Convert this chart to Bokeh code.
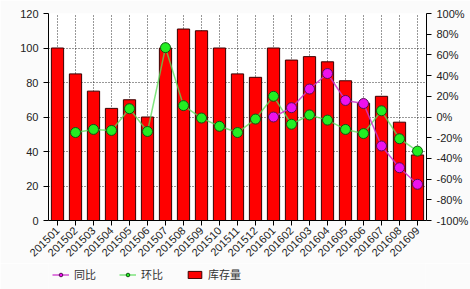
import math
from bokeh.plotting import figure
from bokeh.layouts import column
from bokeh.models import (FactorRange, Range1d, LinearAxis, FixedTicker, PrintfTickFormatter,
                          Legend, LegendItem)
from bokeh.embed import file_html
from bokeh.resources import INLINE

categories = ["201501", "201502", "201503", "201504", "201505", "201506", "201507",
              "201508", "201509", "201510", "201511", "201512", "201601", "201602",
              "201603", "201604", "201605", "201606", "201607", "201608", "201609"]
inventory = [100, 85, 75, 65, 70, 60, 100, 111, 110, 100, 85, 83, 100, 93, 95, 92, 81, 68, 72, 57, 38]
mom_cats = categories[1:]
mom_pct = [-15, -12, -13, 8, -14, 67, 11, -1, -9, -15, -2, 20, -7, 2, -3, -12, -16, 6, -21, -33]
yoy_cats = categories[12:]
yoy_pct = [0, 9, 27, 42, 16, 13, -28, -49, -65]
left_ticks = [0, 20, 40, 60, 80, 100, 120]
right_ticks = [-100, -80, -60, -40, -20, 0, 20, 40, 60, 80, 100]
legend_labels = ["同比", "环比", "库存量"]

FONT = "Liberation Sans"
BG = "#fbfbfb"
BAR = dict(fill_color="#ff0000", line_color="#3a0000", line_width=1)
GLINE = dict(line_color="#55dd55", line_width=1.5, line_alpha=0.75)
GDOT = dict(size=10, fill_color="#22ee22", line_color="#115511", line_width=1)
PLINE = dict(line_color="#cc33cc", line_width=1.5, line_alpha=0.85)
PDOT = dict(size=10, fill_color="#ee11ee", line_color="#551155", line_width=1)

p = figure(width=470, height=262, frame_width=378, frame_height=207,
           x_range=FactorRange(*categories, range_padding=0),
           y_range=Range1d(0, 120), output_backend="svg", toolbar_location=None,
           min_border_left=48, min_border_right=44, min_border_top=13, min_border_bottom=0)
p.background_fill_color = "white"
p.border_fill_color = BG
p.outline_line_color = None

p.extra_y_ranges = {"pct": Range1d(-100, 100)}

p.vbar(x=categories, top=inventory, width=0.68, **BAR)
p.line(x=mom_cats, y=mom_pct, y_range_name="pct", **GLINE)
p.scatter(x=mom_cats, y=mom_pct, y_range_name="pct", **GDOT)
p.line(x=yoy_cats, y=yoy_pct, y_range_name="pct", **PLINE)
p.scatter(x=yoy_cats, y=yoy_pct, y_range_name="pct", **PDOT)

for ax in [p.yaxis[0], p.xaxis[0]]:
    ax.axis_line_color = "black"
    ax.major_tick_line_color = "black"
    ax.major_tick_out = 5
    ax.major_tick_in = 0
    ax.minor_tick_line_color = None
    ax.major_label_text_font = FONT
    ax.major_label_text_font_size = "11px"
    ax.major_label_text_color = "#222222"

p.yaxis[0].ticker = FixedTicker(ticks=left_ticks)
p.xaxis[0].major_label_orientation = math.pi / 4
p.xaxis[0].major_label_standoff = 3

ra = LinearAxis(y_range_name="pct", ticker=FixedTicker(ticks=right_ticks),
                formatter=PrintfTickFormatter(format="%d%%"))
ra.axis_line_color = "black"
ra.major_tick_line_color = "black"
ra.major_tick_out = 5
ra.major_tick_in = 0
ra.minor_tick_line_color = None
ra.major_label_text_font = FONT
ra.major_label_text_font_size = "11px"
ra.major_label_text_color = "#222222"
p.add_layout(ra, "right")

p.ygrid.ticker = FixedTicker(ticks=left_ticks)
p.ygrid.grid_line_color = "black"
p.ygrid.grid_line_dash = "1 2"
p.ygrid.grid_line_alpha = 0.8
p.xgrid.grid_line_color = "black"
p.xgrid.grid_line_dash = "1 2"
p.xgrid.grid_line_alpha = 0.8

# legend strip below the chart: same series drawn again, but outside its visible y-range
lf = figure(width=470, height=27, x_range=FactorRange(*categories, range_padding=0),
            y_range=Range1d(500, 501), output_backend="svg", toolbar_location=None,
            min_border=0, x_axis_type=None, y_axis_type=None)
lf.grid.visible = False
lf.outline_line_color = None
lf.background_fill_color = BG
lf.border_fill_color = BG
r_pl = lf.line(x=yoy_cats, y=yoy_pct, **PLINE)
r_pc = lf.scatter(x=yoy_cats, y=yoy_pct, **PDOT)
r_gl = lf.line(x=mom_cats, y=mom_pct, **GLINE)
r_gc = lf.scatter(x=mom_cats, y=mom_pct, **GDOT)
r_b = lf.vbar(x=categories, top=inventory, width=0.68, **BAR)

legend = Legend(items=[LegendItem(label=legend_labels[0], renderers=[r_pl, r_pc]),
                       LegendItem(label=legend_labels[1], renderers=[r_gl, r_gc]),
                       LegendItem(label=legend_labels[2], renderers=[r_b])],
                orientation="horizontal", location=(4, 8))
legend.label_text_font = "Noto Sans CJK SC"
legend.label_text_font_size = "11px"
legend.label_text_color = "#333333"
legend.border_line_color = None
legend.background_fill_alpha = 0
legend.glyph_width = 17
legend.glyph_height = 9
legend.spacing = 23
legend.label_standoff = 5
legend.padding = 2
legend.margin = 0
lf.add_layout(legend)

open("out.html", "w").write(file_html(column(p, lf, spacing=0), INLINE))
